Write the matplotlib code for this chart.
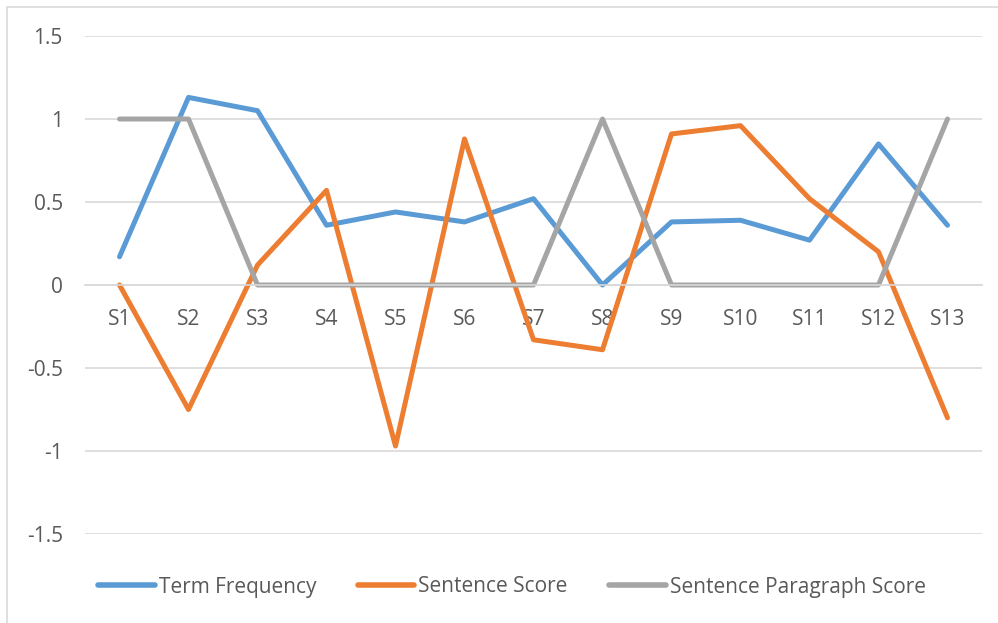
import matplotlib.pyplot as plt
from matplotlib.patches import Rectangle

# --- Data ---
categories = ['S1', 'S2', 'S3', 'S4', 'S5', 'S6', 'S7', 'S8', 'S9', 'S10', 'S11', 'S12', 'S13']
term_frequency = [0.17, 1.13, 1.05, 0.36, 0.44, 0.38, 0.52, 0.0, 0.38, 0.39, 0.27, 0.85, 0.36]
sentence_score = [0.0, -0.75, 0.12, 0.57, -0.97, 0.88, -0.33, -0.39, 0.91, 0.96, 0.52, 0.20, -0.80]
paragraph_score = [1, 1, 0, 0, 0, 0, 0, 1, 0, 0, 0, 0, 1]
y_ticks = [-1.5, -1, -0.5, 0, 0.5, 1, 1.5]
y_tick_labels = ['-1.5', '-1', '-0.5', '0', '0.5', '1', '1.5']

BLUE = '#5B9BD5'
ORANGE = '#ED7D31'
GRAY = '#A5A5A5'
GRID = '#D9D9D9'
TEXT = '#595959'
FS = 15

plt.rcParams['font.family'] = ['Open Sans', 'DejaVu Sans']

fig = plt.figure(figsize=(9.98, 6.23), dpi=100)
# outer chart border
fig.patches.append(Rectangle((7 / 998, -0.01), 1.0, 1 - 7 / 623 + 0.01,
                             transform=fig.transFigure, fill=False,
                             edgecolor=GRID, linewidth=1.2))

ax = fig.add_axes([85 / 998, 1 - 534 / 623, (982 - 85) / 998, (534 - 36) / 623])
x = list(range(len(categories)))
line_kw = dict(linewidth=3.6, solid_capstyle='round', solid_joinstyle='round')
ax.plot(x, term_frequency, color=BLUE, label='Term Frequency', **line_kw)
ax.plot(x, sentence_score, color=ORANGE, label='Sentence Score', **line_kw)
ax.plot(x, paragraph_score, color=GRAY, label='Sentence Paragraph Score', **line_kw)

ax.set_xlim(-0.5, len(categories) - 0.5)
ax.set_ylim(-1.5, 1.5)
ax.set_yticks(y_ticks)
ax.set_yticklabels(y_tick_labels)
ax.set_xticks(x)
ax.set_xticklabels(categories)

ax.yaxis.grid(True, color=GRID, linewidth=1.2)
ax.set_axisbelow(True)
for s in ['top', 'right', 'left']:
    ax.spines[s].set_visible(False)
ax.spines['bottom'].set_position(('data', 0))
ax.spines['bottom'].set_color(GRID)
ax.spines['bottom'].set_linewidth(1.2)
ax.tick_params(axis='both', length=0, labelsize=FS, labelcolor=TEXT)
ax.tick_params(axis='y', pad=16)
ax.tick_params(axis='x', pad=17)

leg = fig.legend(loc='center', bbox_to_anchor=(512 / 998, 1 - 587 / 623), ncol=3,
                 frameon=False, fontsize=FS, handlelength=2.7, handletextpad=0.2,
                 columnspacing=2.0)
for t in leg.get_texts():
    t.set_color(TEXT)
for h in leg.get_lines():
    h.set_linewidth(4.0)
    h.set_solid_capstyle('round')

fig.savefig('out.png', dpi=100)
